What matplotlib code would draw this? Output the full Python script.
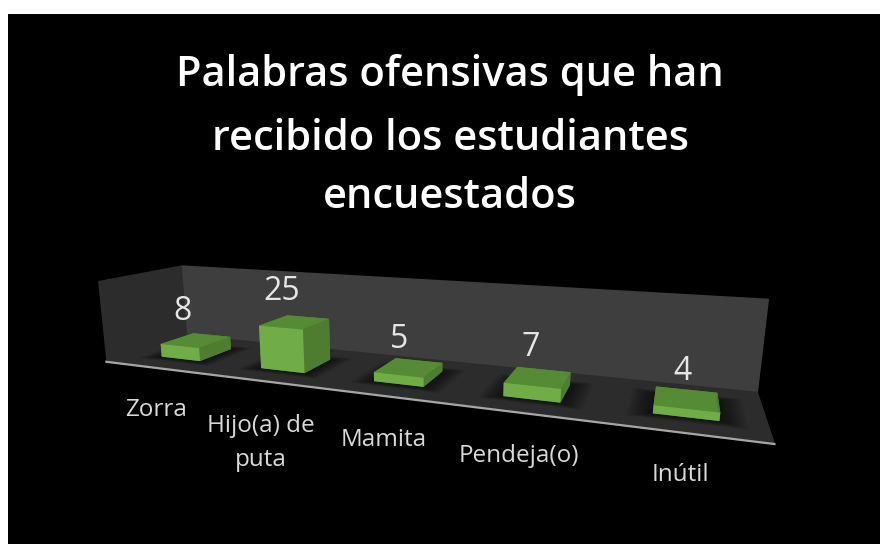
import matplotlib
matplotlib.use("Agg")
import matplotlib.pyplot as plt
from matplotlib.patches import Rectangle
from mpl_toolkits.mplot3d.art3d import Poly3DCollection

# Data
categories = ["Zorra", "Hijo(a) de\nputa", "Mamita", "Pendeja(o)", "Inútil"]
values = [8, 25, 5, 7, 4]
title_lines = ["Palabras ofensivas que han", "recibido los estudiantes", "encuestados"]

# Layout (pixels in the 880x544 figure)
W, H = 880, 544
value_label_xy = [(182, 311), (282, 292), (399, 340), (531, 347), (682, 372)]
cat_label_xy = [(156, 410), (261, 443), (384, 440), (519, 456), (680, 475)]
title_y = [75, 139, 197]
CX, CY = 406.5, 333.5
L = 1000
BAR_W, BAR_D = 0.40, 0.42
BAR_SHIFT = 0.02
ZMAX = 48

plt.rcParams["font.family"] = ["Open Sans", "DejaVu Sans"]
fig = plt.figure(figsize=(W / 100, H / 100), dpi=100, facecolor="white")
fig.patches.append(Rectangle((8 / W, 0), 1, 1 - 14 / H, transform=fig.transFigure,
                             facecolor="black", edgecolor="none", figure=fig, zorder=-5))

frac = 0.095 / 0.185
ax = fig.add_axes([(CX - frac * L) / W, (H - CY - frac * L) / H, L / W, L / H],
                  projection="3d", computed_zorder=False)
ax.patch.set_visible(False)
focal = 691 / (L / 0.185)
ax.set_proj_type("persp", focal_length=focal)
ax.view_init(elev=13.1, azim=-68.6, roll=0.1)
ax.set_box_aspect((9.44, 1.96, 1.28), zoom=5.1 * focal)

ax.set_xlim(-0.5, len(values) - 0.5, view_margin=0)
ax.set_ylim(0, 1, view_margin=0)
ax.set_zlim(0, ZMAX, view_margin=0)

for axis, col in ((ax.xaxis, "#2c2c2c"), (ax.yaxis, "#3e3e3e"), (ax.zaxis, "#2c2c2c")):
    axis.set_pane_color(col)
    axis.pane.set_edgecolor(col)
    axis.line.set_color((0, 0, 0, 0))
    axis.set_ticks([])
ax.grid(False)

# Front edge of the floor
ax.plot([-0.5, len(values) - 0.5], [0, 0], [0, 0], color="#a6a6a6", lw=1.6, zorder=1)

# Soft shadows and bars
for i, v in enumerate(values):
    x0, y0 = i + BAR_SHIFT - BAR_W / 2, 0.5 - BAR_D / 2
    for k in range(1, 11):
        grow = 0.016 * k
        gy = grow * 0.6
        quad = [[(x0 - grow, y0 - gy, 0), (x0 + BAR_W + grow, y0 - gy, 0),
                 (x0 + BAR_W + grow, y0 + BAR_D + gy, 0), (x0 - grow, y0 + BAR_D + gy, 0)]]
        ax.add_collection3d(Poly3DCollection(quad, facecolor=(0, 0, 0, 0.07),
                                             edgecolor="none", zorder=2))
    ax.bar3d(x0, y0, 0, BAR_W, BAR_D, v, shade=False, zorder=3,
             color=["#4e7d30", "#568b36", "#70ad47", "#4e7d30", "#4e7d30", "#4e7d30"],
             edgecolor="none")

def px(x, y):
    return x / W, 1 - y / H

for vy, line in zip(title_y, title_lines):
    fig.text(*px(450, vy), line, color="white", fontsize=30, fontweight="semibold",
             ha="center", va="center")
for (x, y), v in zip(value_label_xy, values):
    fig.text(*px(x, y), str(v), color="#e6e6e6", fontsize=23, ha="center", va="center")
for (x, y), c in zip(cat_label_xy, categories):
    fig.text(*px(x, y), c, color="#d9d9d9", fontsize=17.5, ha="center", va="center",
             linespacing=1.55)

fig.savefig("out.png", dpi=100, facecolor="white")
